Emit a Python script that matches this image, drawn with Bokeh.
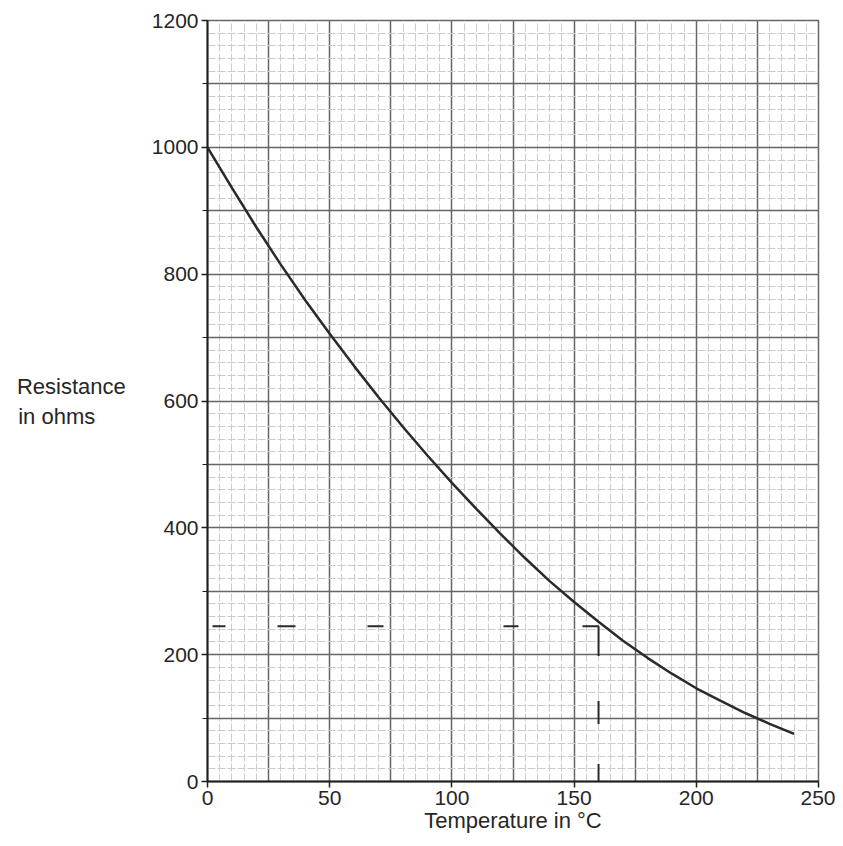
from bokeh.plotting import figure
from bokeh.models import Range1d, SingleIntervalTicker, FixedTicker
from bokeh.embed import file_html
from bokeh.resources import INLINE

# Data
temperature = [0, 10, 20, 30, 40, 50, 60, 70, 80, 90, 100, 110, 120,
               130, 140, 150, 160, 170, 180, 190, 200, 210, 220, 230, 240]
resistance = [1000, 936, 874, 815, 759, 706, 655, 606, 559, 514, 471, 430, 390,
              352, 316, 283, 252, 222, 195, 170, 147, 127, 108, 91, 75]

reading_temperature = 160
reading_resistance = 245

x_ticks = [0, 50, 100, 150, 200, 250]
y_ticks = [0, 200, 400, 600, 800, 1000, 1200]

FONT = "Liberation Sans"
TXT = "#262626"

p = figure(width=835, height=840, output_backend="svg", toolbar_location=None,
           x_range=Range1d(0, 250), y_range=Range1d(0, 1200),
           min_border_left=207, min_border_right=17,
           min_border_top=20, min_border_bottom=59)

p.background_fill_color = "white"
p.border_fill_color = "white"
p.outline_line_color = "#666666"
p.outline_line_width = 1.5

# Graph-paper grid
p.xgrid.ticker = SingleIntervalTicker(interval=25, num_minor_ticks=5)
p.ygrid.ticker = SingleIntervalTicker(interval=100, num_minor_ticks=5)
for g in (p.xgrid, p.ygrid):
    g.grid_line_color = "#666666"
    g.grid_line_width = 1.5
    g.grid_line_alpha = 1.0
    g.minor_grid_line_color = "#cccccc"
    g.minor_grid_line_width = 1
    g.minor_grid_line_dash = "8 2"

# Axes
p.xaxis.ticker = FixedTicker(ticks=x_ticks)
p.yaxis.ticker = FixedTicker(ticks=y_ticks, minor_ticks=[100, 300, 500, 700, 900, 1100])
for ax in (p.xaxis, p.yaxis):
    ax.axis_line_color = "#1e1e1e"
    ax.axis_line_width = 2
    ax.major_tick_line_color = "#1e1e1e"
    ax.major_tick_line_width = 1.5
    ax.major_tick_in = 0
    ax.major_tick_out = 6
    ax.major_label_text_font = FONT
    ax.major_label_text_font_size = "21px"
    ax.major_label_text_color = TXT
    ax.major_label_standoff = 3
p.xaxis.minor_tick_line_color = None
p.yaxis.minor_tick_line_color = "#1e1e1e"
p.yaxis.minor_tick_in = 0
p.yaxis.minor_tick_out = 5

p.xaxis.axis_label = "Temperature in °C"
p.xaxis.axis_label_text_font = FONT
p.xaxis.axis_label_text_font_size = "22px"
p.xaxis.axis_label_text_font_style = "normal"
p.xaxis.axis_label_text_color = TXT
p.xaxis.axis_label_standoff = 0

# Horizontal y-axis title on the left (second line padded so both lines start flush left)
p.yaxis.axis_label = "Resistance\nin ohms" + "\u00a0" * 5
p.yaxis.axis_label_orientation = "horizontal"
p.yaxis.axis_label_text_font = FONT
p.yaxis.axis_label_text_font_size = "22px"
p.yaxis.axis_label_text_font_style = "normal"
p.yaxis.axis_label_text_color = TXT
p.yaxis.axis_label_standoff = 23

# Curve
p.line(temperature, resistance, line_color="#2a2a2a", line_width=2.5)

# Reading construction line (hand-drawn irregular dashing)
p.line([0, reading_temperature, reading_temperature],
       [reading_resistance, reading_resistance, 0],
       line_color="#2a2a2a", line_width=2,
       line_dash="0 5 13 52 18 72 16 120 15 64 46 45 23 40 18 60")

open("out.html", "w").write(file_html(p, INLINE))
